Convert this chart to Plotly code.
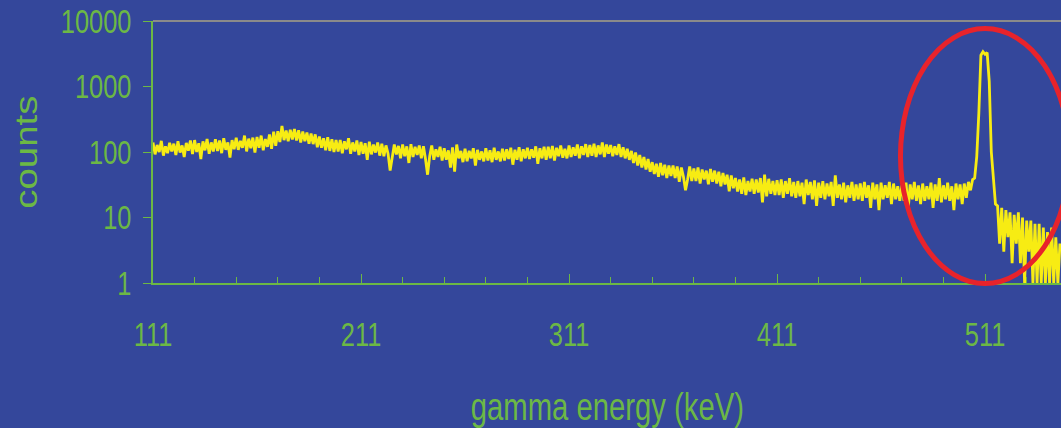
import plotly.graph_objects as go

# Gamma spectrum: counts per 1 keV channel, 111 .. 547 keV
energy_kev = list(range(111, 548))

counts = [
    # 111-120
    140, 92, 128, 100, 148, 88, 122, 96, 138, 102,
    # 121-130
    134, 90, 146, 98, 126, 84, 138, 105, 150, 93,
    # 131-140
    152, 100, 136, 78, 145, 106, 158, 94, 140, 102,
    # 141-150
    156, 104, 150, 96, 162, 108, 140, 82, 152, 110,
    # 151-160
    165, 108, 148, 116, 178, 102, 160, 114, 166, 98,
    # 161-170
    170, 116, 178, 106, 158, 120, 185, 112, 205, 124,
    # 171-180
    208, 142, 250, 152, 212, 146, 218, 155, 224, 150,
    # 181-190
    214, 140, 205, 146, 198, 134, 192, 132, 186, 118,
    # 191-200
    172, 116, 162, 106, 168, 104, 156, 100, 152, 102,
    # 201-210
    152, 96, 146, 110, 162, 94, 140, 102, 150, 90,
    # 211-220
    142, 94, 136, 76, 144, 92, 130, 98, 140, 88,
    # 221-230
    134, 86, 126, 94, 52, 84, 130, 92, 124, 80,
    # 231-240
    130, 86, 122, 68, 132, 84, 120, 90, 126, 80,
    # 241-250
    122, 78, 45, 86, 126, 76, 110, 84, 120, 74,
    # 251-260
    114, 76, 106, 58, 118, 50, 130, 80, 104, 70,
    # 261-270
    112, 72, 104, 80, 114, 62, 108, 76, 102, 72,
    # 271-280
    114, 74, 106, 70, 116, 76, 102, 72, 112, 74,
    # 281-290
    110, 78, 116, 64, 108, 76, 118, 72, 110, 80,
    # 291-300
    116, 78, 110, 82, 122, 66, 114, 80, 120, 76,
    # 301-310
    120, 80, 124, 74, 116, 86, 126, 82, 112, 80,
    # 311-320
    126, 84, 118, 88, 130, 80, 122, 90, 132, 84,
    # 321-330
    128, 88, 134, 84, 126, 92, 140, 84, 130, 94,
    # 331-340
    128, 86, 122, 90, 132, 84, 118, 80, 112, 76,
    # 341-350: Compton edge
    104, 68, 98, 62, 90, 58, 84, 54, 78, 50,
    # 351-360
    70, 46, 66, 42, 68, 44, 64, 40, 62, 43,
    # 361-370
    62, 40, 60, 35, 58, 42, 26, 38, 60, 36,
    # 371-380
    56, 36, 58, 33, 54, 38, 52, 32, 55, 35,
    # 381-390
    52, 33, 50, 30, 48, 32, 45, 25, 44, 28,
    # 391-400
    40, 25, 38, 23, 41, 22, 36, 25, 39, 23,
    # 401-410
    38, 24, 40, 17, 45, 21, 39, 23, 36, 22,
    # 411-420
    37, 22, 38, 20, 36, 23, 40, 21, 35, 20,
    # 421-430
    36, 21, 34, 16, 38, 22, 35, 19, 37, 15,
    # 431-440
    34, 20, 36, 19, 33, 21, 35, 15, 44, 20,
    # 441-450
    32, 19, 34, 17, 31, 20, 35, 18, 32, 19,
    # 451-460
    33, 18, 35, 20, 31, 14, 34, 19, 32, 13,
    # 461-470
    34, 19, 31, 20, 35, 16, 33, 19, 30, 18,
    # 471-480
    31, 18, 34, 13, 32, 19, 35, 18, 31, 16,
    # 481-490
    33, 18, 30, 19, 34, 14, 32, 18, 40, 17,
    # 491-500
    31, 19, 34, 18, 30, 13, 33, 19, 32, 16,
    # 501-506
    33, 20, 35, 26, 38, 40,
    # 507-516: 511 keV annihilation peak
    85, 390, 3000, 3400, 3100, 3300, 1200, 100, 45, 16,
    # 517-526
    15, 4, 14, 3, 13, 5, 12, 2, 11, 4,
    # 527-536
    12, 2, 10, 1, 9, 3, 9, 1, 8, 1,
    # 537-547
    8, 1, 7, 1, 6, 1, 7, 1, 5, 1, 4,
]

y_tick_vals = [1, 10, 100, 1000, 10000]
y_tick_text = ["1", "10", "100", "1000", "10000"]
x_tick_vals = [111, 211, 311, 411, 511]
x_tick_text = ["111", "211", "311", "411", "511"]

BG = "#34479B"
GREEN = "#6CB845"
YELLOW = "#F7EC13"
RED = "#E8232B"
FONT = "Liberation Sans, Arial, sans-serif"

fig = go.Figure()
fig.add_trace(go.Scatter(
    x=energy_kev, y=counts, mode="lines",
    line=dict(color=YELLOW, width=2.8),
    hoverinfo="skip", showlegend=False,
))

fig.update_layout(
    width=1061, height=428,
    margin=dict(l=153, r=0, t=21, b=145, pad=0),
    paper_bgcolor=BG, plot_bgcolor=BG,
    font=dict(family=FONT, color=GREEN),
    xaxis=dict(
        range=[111, 547.5], tickmode="array",
        tickvals=x_tick_vals, ticktext=x_tick_text,
        ticks="inside", ticklen=9, tickwidth=1, tickcolor=GREEN,
        minor=dict(ticks="inside", ticklen=6, tickwidth=1, tickcolor=GREEN,
                   tick0=111, dtick=20),
        showline=True, linecolor=GREEN, linewidth=2,
        showgrid=False, zeroline=False,
        tickfont=dict(family=FONT, size=33, color=GREEN),
        ticklabelstandoff=21,
    ),
    yaxis=dict(
        type="log", range=[0, 4], tickmode="array",
        tickvals=y_tick_vals, ticktext=y_tick_text,
        ticks="outside", ticklen=8, tickwidth=1, tickcolor=GREEN,
        showline=True, linecolor=GREEN, linewidth=2,
        showgrid=False, zeroline=False,
        tickfont=dict(family=FONT, size=33, color=GREEN),
        ticklabelstandoff=5,
    ),
    shapes=[
        # gray top frame line at 10000
        dict(type="line", xref="paper", yref="paper", x0=0, x1=1.01, y0=1, y1=1,
             line=dict(color="#8A8A8A", width=2)),
        # ellipse highlighting the 511 keV peak
        dict(type="circle", xref="paper", yref="paper",
             x0=0.8232, x1=1.0094, y0=-0.002, y1=0.971,
             line=dict(color=RED, width=5), layer="above"),
    ],
    annotations=[
        dict(text="counts", xref="paper", yref="paper", x=-0.140, y=0.5,
             xanchor="center", yanchor="middle", textangle=-90, showarrow=False,
             font=dict(family=FONT, size=31, color=GREEN)),
        dict(text="gamma energy (keV)", xref="paper", yref="paper", x=0.501, y=-0.473,
             xanchor="center", yanchor="middle", showarrow=False,
             font=dict(family=FONT, size=38, color=GREEN)),
    ],
)

# Horizontal text scaling: condensed tick labels and axis title, widened "counts".
# Each label is scaled about its own anchor so its position is unchanged.
TEXT_SCALE_JS = """
var gd = document.getElementsByClassName('plotly-graph-div')[0];
gd.querySelectorAll('.xtick text, .ytick text, .annotation-text').forEach(function (t) {
  var sx = (t.textContent === 'counts') ? 1.24 : 0.77;
  var b = t.getBBox();
  var anchor = t.getAttribute('text-anchor');
  var cx = anchor === 'end' ? b.x + b.width
         : anchor === 'start' ? b.x : b.x + b.width / 2;
  var tr = t.getAttribute('transform') || '';
  t.setAttribute('transform', tr + ' translate(' + cx + ',0) scale(' + sx + ',1) translate(' + (-cx) + ',0)');
});
"""

fig.write_html("out.html", post_script=TEXT_SCALE_JS)
